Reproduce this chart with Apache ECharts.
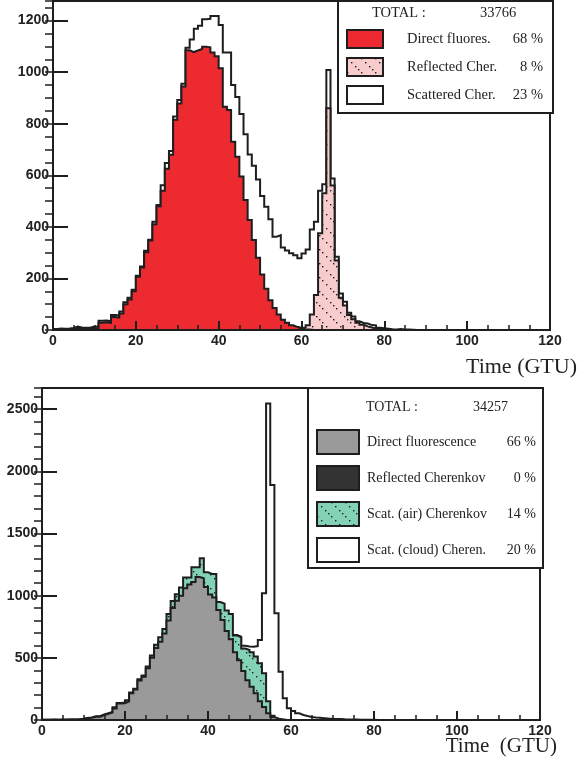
<!DOCTYPE html>
<html>
<head>
<meta charset="utf-8">
<script src="https://cdn.jsdelivr.net/npm/echarts@6/dist/echarts.min.js"></script>
<style>
html,body{margin:0;padding:0;background:#ffffff;}
#chart{width:577px;height:771px;}
</style>
</head>
<body>
<div id="chart"></div>
<script>
// ===== Data: counts per 1-GTU time bin (array index = bin lower edge, GTU) =====
const xTickValues = [0, 20, 40, 60, 80, 100, 120];

// --- Upper panel ---
const topDirectFluor = [2,3,3,2,4,8,6,5,5,8, 6,28,30,28,50,48,64,100,118,150,
  207,242,302,347,410,480,540,625,680,815, 878,944,1085,1078,1084,1090,1099,1096,1076,1062,
  1015,866,853,730,672,595,504,427,349,280, 215,160,115,85,60,40,28,18,12,6, 3,2,0];
// level of direct + reflected Cherenkov (stacked), starting at bin 58
const topReflFirstBin = 58;
const topReflectedLevel = [12,9,10,18,60,136,375,530,860,560,270,125,95,58,42,28,20,14,10,6,4,2,0];
// total (direct + reflected + scattered)
const topTotalLevel = [4,6,5,6,8,13,10,9,9,14, 13,36,37,34,58,56,72,108,125,156,
  210,246,307,350,420,485,561,648,694,828, 892,955,1095,1127,1168,1180,1205,1207,1218,1218,
  1183,1076,1076,950,904,838,759,681,637,584, 520,478,430,362,368,320,308,298,290,278,
  297,312,390,420,540,565,1008,588,284,142, 110,67,52,34,27,25,19,18,9,7, 5,3,2,4,2,2,1,0];
const topNames = ['Direct fluores.', 'Reflected Cher.', 'Scattered Cher.'];
const topPercents = [68, 8, 23];
const topTotalCount = 33766;

// --- Lower panel ---
const botDirectFluor = [2,2,3,2,3,3,4,4,5,8, 14,18,26,27,40,50,60,92,132,134,
  150,216,245,318,348,416,500,580,630,695, 800,900,960,1000,1060,1090,1110,1150,1140,1070,
  1010,985,885,805,715,650,545,480,395,320, 268,215,150,105,55,25,10,4,0];
const botReflectedLevel = []; // 0 % : nothing visible
// level of direct + reflected + scattered(air) Cherenkov
const botAirCherLevel = [3,3,4,3,4,4,5,5,6,10, 17,21,30,31,45,54,64,102,137,140,
  159,222,252,327,358,430,518,605,665,732, 852,958,1012,1066,1146,1146,1228,1228,1300,1188,
  1175,1175,948,935,880,852,680,665,575,563, 545,510,456,375,150,35,10,4,0];
// total level incl. scattered (cloud) Cherenkov, starting at bin 46
const botCloudFirstBin = 46;
const botCloudLevel = [684,670,598,592,590,595,644,1019,2545,1890,858,389,174,94,72,54,40,32,25,21,
  18,15,12,10,9,8,6,5,5,4,3,3,2,2,1,0];
const botNames = ['Direct fluorescence', 'Reflected Cherenkov', 'Scat. (air) Cherenkov', 'Scat. (cloud) Cheren.'];
const botPercents = [66, 0, 14, 20];
const botTotalCount = 34257;

// ===== Styling helpers =====
const INK = '#1e1e1e';
const SERIF = '"Liberation Serif", "Times New Roman", serif';
const SANS = '"Liberation Sans", Arial, Helvetica, sans-serif';

function hatch(bg) {
  const c = document.createElement('canvas');
  c.width = 14; c.height = 14;
  const g = c.getContext('2d');
  g.fillStyle = bg; g.fillRect(0, 0, 14, 14);
  g.fillStyle = '#1e1e1e';
  [[0,0],[4,4],[8,8],[11,11]].forEach(p => g.fillRect(p[0], p[1], 1.4, 1.4));
  return { image: c, repeat: 'repeat' };
}

const RED = '#ec2a30';
const PINK = hatch('#f8cccd');
const WHITE = '#ffffff';
const GRAY = '#9a9a9a';
const DARK = '#333333';
const GREEN = hatch('#84d2b5');

function stepData(arr, firstBin) {
  const d = arr.map((v, i) => [firstBin + i, v]);
  if (arr.length) d.push([firstBin + arr.length, arr[arr.length - 1]]);
  return d;
}

function histSeries(name, arr, firstBin, fill, panel, z) {
  return {
    type: 'line', name: name,
    xAxisIndex: panel, yAxisIndex: panel * 2,
    data: stepData(arr, firstBin),
    step: 'end', symbol: 'none', z: z, silent: true,
    lineStyle: { color: INK, width: 2, join: 'miter' },
    areaStyle: { color: fill, opacity: 1, origin: 'start' },
    itemStyle: { color: fill }
  };
}

function xAxisFor(grid, name, nameGap, padTop, fs) {
  return {
    type: 'value', gridIndex: grid, min: 0, max: 120, interval: 20, z: 6,
    axisLine: { show: true, onZero: false, lineStyle: { color: INK, width: 2 } },
    axisTick: { show: true, inside: true, length: 9, lineStyle: { color: INK, width: 2 } },
    minorTick: { show: true, splitNumber: 4, length: 5, lineStyle: { color: INK, width: 1.5 } },
    splitLine: { show: false },
    axisLabel: { show: true, margin: 4, color: '#222', fontFamily: SANS, fontWeight: 'bold', fontSize: 14,
      formatter: v => (xTickValues.indexOf(v) >= 0 ? String(v) : '') },
    name: name, nameLocation: 'end', nameGap: nameGap, nameMoveOverlap: false,
    nameTextStyle: { fontFamily: SERIF, fontSize: fs, color: '#222', align: 'right', verticalAlign: 'top', padding: [padTop, 0, 0, 0] }
  };
}

function yAxesFor(grid, max, major, minor) {
  return [{
    type: 'value', gridIndex: grid, min: 0, max: max, interval: major, z: 6,
    axisLine: { show: true, onZero: false, lineStyle: { color: INK, width: 2 } },
    axisTick: { show: true, inside: true, length: 15, lineStyle: { color: INK, width: 2 } },
    splitLine: { show: false },
    axisLabel: { show: true, margin: 4, showMaxLabel: false, color: '#222', fontFamily: SANS, fontWeight: 'bold', fontSize: 14,
      formatter: v => String(v) }
  }, {
    type: 'value', gridIndex: grid, min: 0, max: max, interval: minor, z: 6,
    axisLine: { show: false },
    axisTick: { show: true, inside: true, length: 8, lineStyle: { color: INK, width: 1.5 } },
    splitLine: { show: false },
    axisLabel: { show: false }
  }];
}

function legendFor(names, percents, fills, opts) {
  return {
    orient: 'vertical', left: opts.left, top: opts.top,
    itemWidth: opts.iw, itemHeight: opts.ih, itemGap: opts.gap,
    padding: opts.pad, icon: 'rect', selectedMode: false,
    backgroundColor: '#ffffff', borderColor: INK, borderWidth: 2,
    data: names.map((n, i) => ({ name: n, itemStyle: { color: fills[i], borderColor: INK, borderWidth: 2 } })),
    formatter: name => '{s| }{n|' + name + '}{p|' + percents[names.indexOf(name)] + ' %}',
    textStyle: { fontFamily: SERIF, fontSize: opts.fs, color: '#222',
      rich: { s: { width: opts.sw }, n: { width: opts.nw, fontFamily: SERIF, fontSize: opts.fs },
              p: { width: 40, align: 'right', fontFamily: SERIF, fontSize: opts.fs } } }
  };
}

const topFills = [RED, PINK, WHITE];
const botFills = [GRAY, DARK, GREEN, WHITE];

const option = {
  animation: false,
  backgroundColor: '#ffffff',
  grid: [
    { left: 53, top: 1, width: 497, height: 329, show: true, borderColor: INK, borderWidth: 2,
      backgroundColor: 'transparent', containLabel: false, outerBoundsMode: 'none' },
    { left: 42, top: 388, width: 498, height: 332, show: true, borderColor: INK, borderWidth: 2,
      backgroundColor: 'transparent', containLabel: false, outerBoundsMode: 'none' }
  ],
  xAxis: [
    xAxisFor(0, 'Time (GTU)', 27, 26, 22),
    xAxisFor(1, 'Time  (GTU)', 17, 16, 21)
  ],
  yAxis: [].concat(yAxesFor(0, 1276, 200, 50), yAxesFor(1, 2670, 500, 100)),
  legend: [
    legendFor(topNames, topPercents, topFills,
      { left: 338, top: 1, iw: 36, ih: 18, gap: 8, pad: [28, 10, 8, 8], fs: 14.5, sw: 19, nw: 96 }),
    legendFor(botNames, botPercents, botFills,
      { left: 308, top: 388, iw: 42, ih: 24, gap: 10, pad: [41, 7, 5, 8], fs: 14, sw: 3, nw: 129 })
  ],
  graphic: [
    { type: 'text', left: 372, top: 6, z: 100, style: { text: 'TOTAL :', font: '14.5px ' + SERIF, fill: '#222' } },
    { type: 'text', left: 480, top: 6, z: 100, style: { text: String(topTotalCount), font: '14.5px ' + SERIF, fill: '#222' } },
    { type: 'text', left: 366, top: 400, z: 100, style: { text: 'TOTAL :', font: '14px ' + SERIF, fill: '#222' } },
    { type: 'text', left: 473, top: 400, z: 100, style: { text: String(botTotalCount), font: '14px ' + SERIF, fill: '#222' } }
  ],
  series: [
    histSeries(topNames[2], topTotalLevel, 0, WHITE, 0, 2),
    histSeries(topNames[1], topReflectedLevel, topReflFirstBin, PINK, 0, 3),
    histSeries(topNames[0], topDirectFluor, 0, RED, 0, 4),
    histSeries(botNames[3], botCloudLevel, botCloudFirstBin, WHITE, 1, 2),
    histSeries(botNames[2], botAirCherLevel, 0, GREEN, 1, 3),
    histSeries(botNames[1], botReflectedLevel, 0, DARK, 1, 3),
    histSeries(botNames[0], botDirectFluor, 0, GRAY, 1, 4)
  ]
};

const chart = echarts.init(document.getElementById('chart'), null, { renderer: 'canvas' });
chart.setOption(option);
</script>
</body>
</html>
